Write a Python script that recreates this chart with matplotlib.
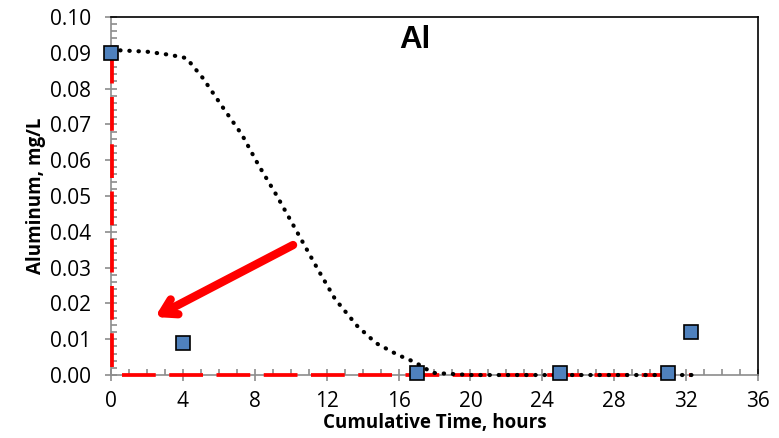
import matplotlib
matplotlib.use("Agg")
import matplotlib.pyplot as plt
from matplotlib.ticker import MultipleLocator, FormatStrFormatter

plt.rcParams['font.family'] = ['Open Sans', 'DejaVu Sans']

# measured aluminum
time_h = [0, 4, 17, 25, 31, 32.3]
al_mgL = [0.090, 0.009, 0.0006, 0.0006, 0.0006, 0.012]

# trend curve
trend_t = [0, 2, 3.3, 4.2, 5.1, 6.2, 7.3, 8.2, 9.2, 10.07, 10.57, 11.5, 12.47, 13.7,
           14.75, 15.97, 16.9, 17.9, 20, 25, 30, 32.3]
trend_y = [0.0908, 0.0903, 0.0894, 0.0885, 0.083, 0.0749, 0.067, 0.0587, 0.0503, 0.0425,
           0.038, 0.0296, 0.0212, 0.0137, 0.0089, 0.0056, 0.0036, 0.0006, 0.0, 0.0, 0.0, 0.0]

# red guide lines
guide_v_t = [0.08, 0.08]
guide_v_y = [0.0022, 0.088]
guide_h_t = [0.6, 32.3]
guide_h_y = [0.0, 0.0]

fig = plt.figure(figsize=(7.79, 4.38), dpi=100)
ax = fig.add_axes([0.1425, 0.1438, 0.8305, 0.8175])

red_dash = dict(color='#ff0000', lw=2.7, linestyle=(0, (9, 3.6)), clip_on=False, zorder=5)
ax.plot(guide_v_t, guide_v_y, **red_dash)
ax.plot(guide_h_t, guide_h_y, **red_dash)
ax.plot(trend_t, trend_y, color='black', lw=3.0, linestyle=(0, (0.1, 2.1)),
        dash_capstyle='round', clip_on=False, zorder=6)
ax.plot(time_h, al_mgL, 's', ms=9.5, mfc='#4f81bd', mec='black', mew=1.2,
        clip_on=False, zorder=7)

ax.annotate('', xy=(2.45, 0.0162), xytext=(10.13, 0.0363),
            arrowprops=dict(arrowstyle='->,head_length=1.0,head_width=0.6',
                            color='#ff0000', lw=6, shrinkA=0, shrinkB=0))

ax.text(16.9, 0.0935, 'Al', fontsize=22.5, fontweight='bold', ha='center', va='center',
        family=['Liberation Sans', 'DejaVu Sans'])

ax.set_xlim(0, 36)
ax.set_ylim(0, 0.10)
ax.xaxis.set_major_locator(MultipleLocator(4))
ax.xaxis.set_minor_locator(MultipleLocator(1))
ax.yaxis.set_major_locator(MultipleLocator(0.01))
ax.yaxis.set_minor_locator(MultipleLocator(0.002))
ax.yaxis.set_major_formatter(FormatStrFormatter('%.2f'))

for side in ['left', 'bottom']:
    ax.spines[side].set_color('#8c8c8c')
    ax.spines[side].set_linewidth(1.2)
for side in ['top', 'right']:
    ax.spines[side].set_color('black')
    ax.spines[side].set_linewidth(1.2)

ax.tick_params(which='major', direction='inout', length=9, width=1.2, color='#8c8c8c',
               labelsize=15, pad=10)
ax.tick_params(which='minor', direction='in', length=4.5, width=1.2, color='#8c8c8c')
ax.tick_params(axis='x', which='major', pad=7)

ax.set_xlabel('Cumulative Time, hours', fontsize=13.5, fontweight='bold', labelpad=1)
ax.set_ylabel('Aluminum, mg/L', fontsize=13.5, fontweight='bold', labelpad=3)

fig.savefig('out.png', dpi=100)
